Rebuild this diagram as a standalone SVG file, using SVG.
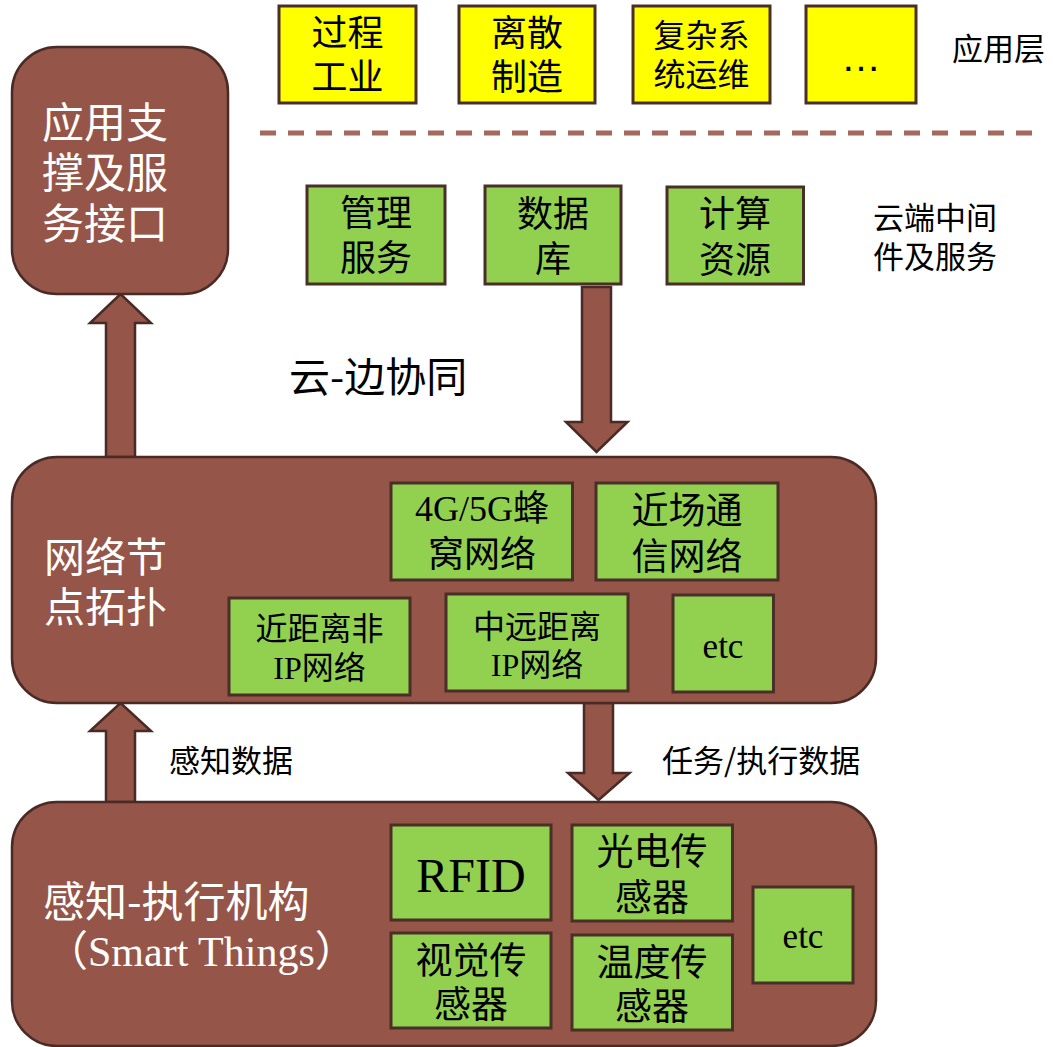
<svg xmlns="http://www.w3.org/2000/svg" width="1053" height="1047" viewBox="0 0 1053 1047">
<style>
.big{fill:#955649;stroke:#4a2a24;stroke-width:2.5}
.yel{fill:#ffff00;stroke:#4a2e28;stroke-width:3}
.grn{fill:#92d050;stroke:#4a2e28;stroke-width:3}
.arr{fill:#955649;stroke:#4a2a24;stroke-width:2.5;stroke-linejoin:miter}
.cjk{font-family:"Noto Sans CJK SC","Liberation Sans",sans-serif;fill:#000}
.ser{font-family:"Liberation Serif","Noto Sans CJK SC",serif;fill:#000}
.w{fill:#fff}
.mid{text-anchor:middle}
</style>
<rect width="1053" height="1047" fill="#fff"/>
<g id="connectors">
<polygon class="arr" points="106,457 106,323 90,323 120.5,294 151,323 135,323 135,457"/>
<polygon class="arr" points="582,287 611,287 611,422 627.5,422 596.5,452 566,422 582,422"/>
<polygon class="arr" points="106,802 106,731 90,731 120.5,703 151,731 135,731 135,802"/>
<polygon class="arr" points="584,703 613,703 613,773 629.5,773 598.5,800 568,773 584,773"/>
<line x1="260" y1="133" x2="1034" y2="133" stroke="#a3695d" stroke-width="5" stroke-dasharray="16 12"/>
</g>
<g id="app-support">
<rect class="big" x="12" y="47" width="216" height="247" rx="45"/>
<text class="cjk w" font-size="42"><tspan x="42" y="138">应用支</tspan><tspan x="42" y="188">撑及服</tspan><tspan x="42" y="239">务接口</tspan></text>
</g>
<g id="process-industry">
<rect class="yel" x="279" y="6" width="137" height="97"/>
<text class="cjk mid" font-size="36"><tspan x="347.5" y="46">过程</tspan><tspan x="347.5" y="90">工业</tspan></text>
</g>
<g id="discrete-mfg">
<rect class="yel" x="459" y="6" width="136" height="97"/>
<text class="cjk mid" font-size="36"><tspan x="527" y="46">离散</tspan><tspan x="527" y="90">制造</tspan></text>
</g>
<g id="complex-ops">
<rect class="yel" x="633" y="6" width="137" height="97"/>
<text class="cjk mid" font-size="32"><tspan x="701.5" y="47">复杂系</tspan><tspan x="701.5" y="85.5">统运维</tspan></text>
</g>
<g id="more-apps">
<rect class="yel" x="806" y="6" width="110" height="97"/>
<text class="mid" font-family="Liberation Sans, sans-serif" font-size="40" x="861" y="71">…</text>
</g>
<g id="app-layer-label">
<text class="cjk" font-size="31" x="952" y="60">应用层</text>
</g>
<g id="mgmt-service">
<rect class="grn" x="307" y="186" width="138" height="98"/>
<text class="cjk mid" font-size="36"><tspan x="376" y="226">管理</tspan><tspan x="376" y="271">服务</tspan></text>
</g>
<g id="database">
<rect class="grn" x="485" y="186" width="136" height="98"/>
<text class="cjk mid" font-size="36"><tspan x="553" y="227">数据</tspan><tspan x="553" y="272">库</tspan></text>
</g>
<g id="compute">
<rect class="grn" x="667" y="187" width="136.5" height="97"/>
<text class="cjk mid" font-size="36"><tspan x="735" y="227">计算</tspan><tspan x="735" y="273">资源</tspan></text>
</g>
<g id="cloud-label">
<text class="cjk" font-size="31"><tspan x="873" y="229">云端中间</tspan><tspan x="873" y="268">件及服务</tspan></text>
</g>
<g id="cloud-edge-label">
<text class="cjk" font-size="41" x="289" y="392">云-边协同</text>
</g>
<g id="network">
<rect class="big" x="12" y="457" width="864" height="246" rx="45"/>
<text class="cjk w" font-size="41"><tspan x="44" y="572">网络节</tspan><tspan x="44" y="622">点拓扑</tspan></text>
</g>
<g id="cellular">
<rect class="grn" x="391" y="483" width="181.5" height="97"/>
<text class="ser mid" font-size="36"><tspan x="482" y="521">4G/5G蜂</tspan><tspan x="482" y="567" font-family="Noto Sans CJK SC, sans-serif">窝网络</tspan></text>
</g>
<g id="nfc">
<rect class="grn" x="596" y="483" width="182" height="97"/>
<text class="cjk mid" font-size="37"><tspan x="687" y="524">近场通</tspan><tspan x="687" y="570">信网络</tspan></text>
</g>
<g id="short-nonip">
<rect class="grn" x="229" y="598" width="181" height="97"/>
<text class="ser mid" font-size="32"><tspan x="319.5" y="640" font-family="Noto Sans CJK SC, sans-serif">近距离非</tspan><tspan x="319.5" y="679">IP网络</tspan></text>
</g>
<g id="long-ip">
<rect class="grn" x="446" y="594" width="182" height="97"/>
<text class="ser mid" font-size="32"><tspan x="537" y="638" font-family="Noto Sans CJK SC, sans-serif">中远距离</tspan><tspan x="537" y="676">IP网络</tspan></text>
</g>
<g id="net-etc">
<rect class="grn" x="673" y="595" width="100.5" height="97"/>
<text class="ser mid" font-size="35" x="723" y="658">etc</text>
</g>
<g id="sense-label">
<text class="cjk" font-size="31" x="169" y="772">感知数据</text>
</g>
<g id="task-label">
<text class="cjk" font-size="31" x="662" y="772">任务/执行数据</text>
</g>
<g id="smart-things">
<rect class="big" x="12" y="802" width="864" height="244" rx="45"/>
<text class="ser w" font-size="42"><tspan x="43" y="917" font-family="Noto Sans CJK SC, sans-serif">感知-执行机构</tspan><tspan x="46" y="966">（Smart Things）</tspan></text>
</g>
<g id="rfid">
<rect class="grn" x="391" y="825" width="160" height="95"/>
<text class="ser mid" font-size="48" x="471" y="892">RFID</text>
</g>
<g id="photo-sensor">
<rect class="grn" x="572" y="825" width="160.5" height="96"/>
<text class="cjk mid" font-size="37"><tspan x="652" y="865">光电传</tspan><tspan x="652" y="911">感器</tspan></text>
</g>
<g id="vision-sensor">
<rect class="grn" x="391" y="933" width="160" height="95"/>
<text class="cjk mid" font-size="37"><tspan x="471" y="974">视觉传</tspan><tspan x="471" y="1018">感器</tspan></text>
</g>
<g id="temp-sensor">
<rect class="grn" x="572" y="935" width="160.5" height="95"/>
<text class="cjk mid" font-size="37"><tspan x="652" y="976">温度传</tspan><tspan x="652" y="1020">感器</tspan></text>
</g>
<g id="things-etc">
<rect class="grn" x="753" y="887" width="100" height="96"/>
<text class="ser mid" font-size="35" x="803" y="948">etc</text>
</g>
</svg>
